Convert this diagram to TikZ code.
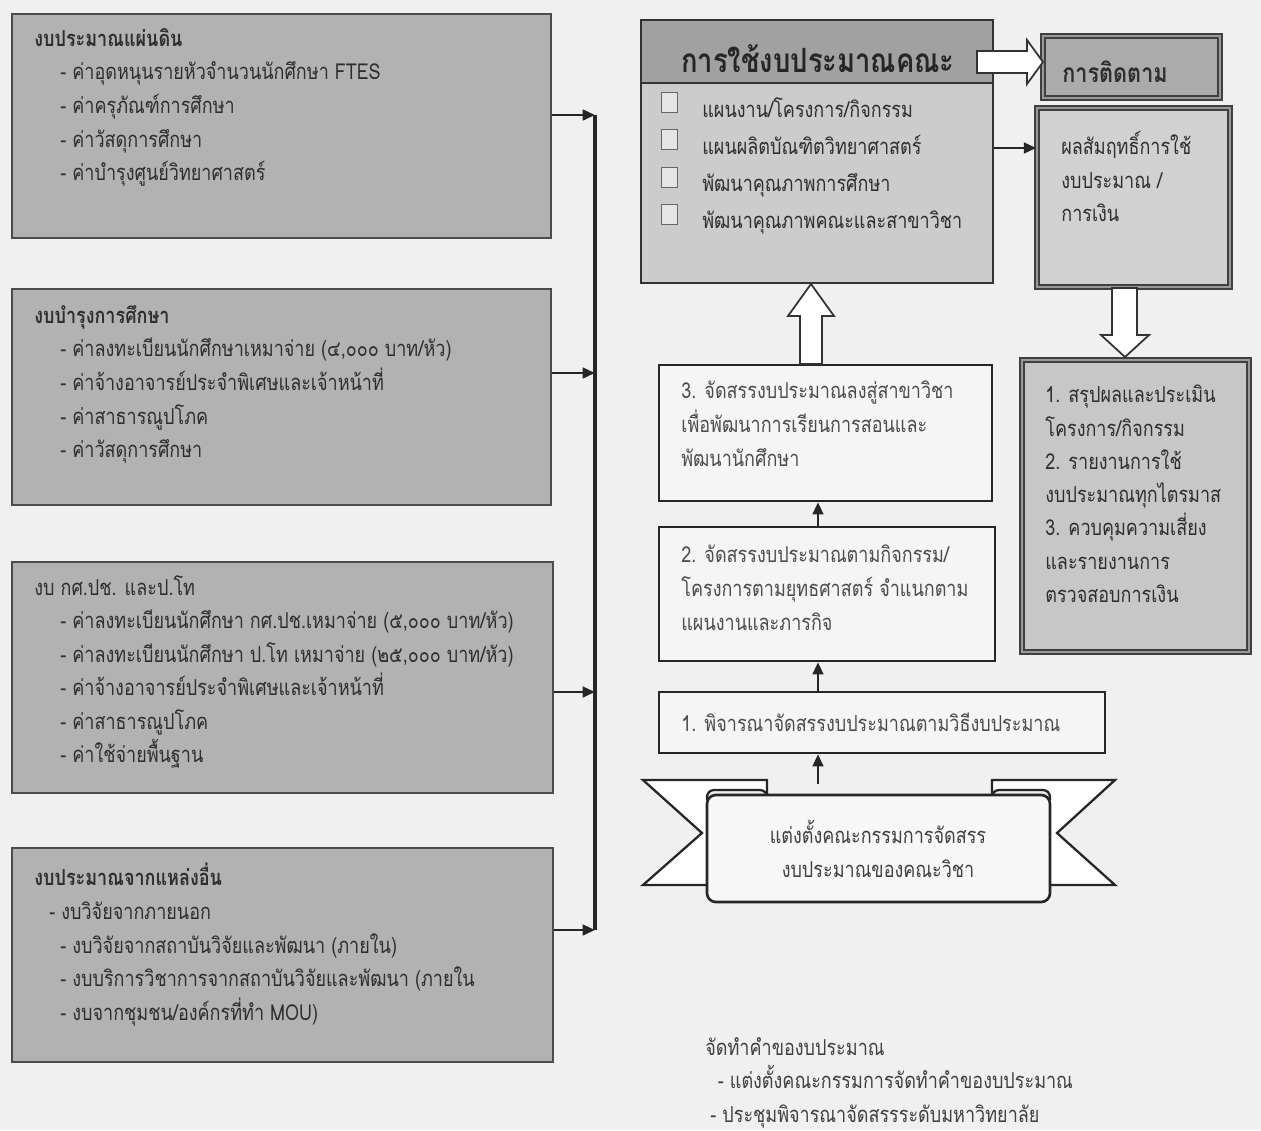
\documentclass[tikz,border=0pt]{standalone}
\usepackage{fontspec}
\newfontfamily\thai[Script=Thai, FakeStretch=0.82]{Loma}
\usetikzlibrary{fit,arrows.meta,calc}
\tikzset{
  lbox/.style={draw=black!70, line width=1pt, fill=black!30, inner sep=0pt},
  stepbox/.style={draw=black!85, line width=1.3pt, fill=black!4, inner sep=0pt},
  dbox/.style={draw=black!75, line width=0.9pt, double=black!40, double distance=1.4pt, inner sep=0pt},
  txt/.style={anchor=north west, inner sep=0pt, align=left, text=black!82,
    font=\thai\fontsize{12.5}{19.1}\selectfont},
  arr/.style={line width=1.6pt, black!85, -{Triangle[length=7pt,width=6pt]}},
  hollow/.style={draw=black!80, line width=1pt, fill=white},
  chk/.style={draw=black!60, line width=0.8pt, fill=black!10, inner sep=0pt, minimum width=16*0.02cm, minimum height=20*0.02cm, anchor=north west},
}
\begin{document}
\begin{tikzpicture}[x=0.02cm,y=-0.02cm]
\useasboundingbox[fill=black!6] (0,0) rectangle (1261,1130);

% ---------- left boxes ----------
\node[lbox, fit={(12,14) (551,238)}] (b1) {};
\node[lbox, fit={(12,289) (551,505)}] (b2) {};
\node[lbox, fit={(12,562) (553,793)}] (b3) {};
\node[lbox, fit={(12,848) (553,1062)}] (b4) {};

\node[txt] (t1) at (34,28) {{\bfseries งบประมาณแผ่นดิน}\\
\hspace*{0.52cm}- ค่าอุดหนุนรายหัวจำนวนนักศึกษา FTES\\
\hspace*{0.52cm}- ค่าครุภัณฑ์การศึกษา\\
\hspace*{0.52cm}- ค่าวัสดุการศึกษา\\
\hspace*{0.52cm}- ค่าบำรุงศูนย์วิทยาศาสตร์};

\node[txt] (t2) at (34,305) {{\bfseries งบบำรุงการศึกษา}\\
\hspace*{0.52cm}- ค่าลงทะเบียนนักศึกษาเหมาจ่าย (๔,๐๐๐ บาท/หัว)\\
\hspace*{0.52cm}- ค่าจ้างอาจารย์ประจำพิเศษและเจ้าหน้าที่\\
\hspace*{0.52cm}- ค่าสาธารณูปโภค\\
\hspace*{0.52cm}- ค่าวัสดุการศึกษา};

\node[txt] (t3) at (34,575) {งบ กศ.ปช. และป.โท\\
\hspace*{0.52cm}- ค่าลงทะเบียนนักศึกษา กศ.ปช.เหมาจ่าย (๕,๐๐๐ บาท/หัว)\\
\hspace*{0.52cm}- ค่าลงทะเบียนนักศึกษา ป.โท เหมาจ่าย (๒๕,๐๐๐ บาท/หัว)\\
\hspace*{0.52cm}- ค่าจ้างอาจารย์ประจำพิเศษและเจ้าหน้าที่\\
\hspace*{0.52cm}- ค่าสาธารณูปโภค\\
\hspace*{0.52cm}- ค่าใช้จ่ายพื้นฐาน};

\node[txt] (t4) at (34,863) {{\bfseries งบประมาณจากแหล่งอื่น}\\
\hspace*{0.3cm}- งบวิจัยจากภายนอก\\
\hspace*{0.52cm}- งบวิจัยจากสถาบันวิจัยและพัฒนา (ภายใน)\\
\hspace*{0.52cm}- งบบริการวิชาการจากสถาบันวิจัยและพัฒนา (ภายใน\\
\hspace*{0.52cm}- งบจากชุมชน/องค์กรที่ทำ MOU)};

% bus
\coordinate (j1) at (595,115);
\coordinate (j2) at (595,373);
\coordinate (j3) at (595,692);
\coordinate (j4) at (595,930);
\draw[line width=2pt, black!85] (j1) -- (j4);
\draw[arr] (b1.east |- j1) -- (j1);
\draw[arr] (b2.east |- j2) -- (j2);
\draw[arr] (b3.east |- j3) -- (j3);
\draw[arr] (b4.east |- j4) -- (j4);

% ---------- top centre box ----------
\node[draw=black!80, line width=1.2pt, fill=black!20, inner sep=0pt, fit={(641,20) (993,283)}] (use) {};
\fill[black!37] (641,20) rectangle (993,83);
\draw[black!80, line width=1.2pt] (641,83) -- (993,83);
\draw[black!80, line width=1.2pt] (641,20) rectangle (993,283);
\node[inner sep=0pt, text=black!85, font=\thai\bfseries\fontsize{19}{23}\selectfont] (usetitle) at (818,59) {การใช้งบประมาณคณะ};

\node[chk] (c1) at (661,92) {};
\node[chk] (c2) at (661,129) {};
\node[chk] (c3) at (661,167) {};
\node[chk] (c4) at (661,204) {};
\node[txt, font=\thai\fontsize{12.5}{21.2}\selectfont] (useitems) at (702,97) {แผนงาน/โครงการ/กิจกรรม\\
แผนผลิตบัณฑิตวิทยาศาสตร์\\
พัฒนาคุณภาพการศึกษา\\
พัฒนาคุณภาพคณะและสาขาวิชา};

% ---------- monitoring ----------
\node[dbox, fill=black!33, fit={(1043,36) (1220,98)}] (mon) {};
\node[txt, font=\thai\bfseries\fontsize{15}{18}\selectfont, anchor=west] (montxt) at (1062,72) {การติดตาม};

\node[dbox, fill=black!18, fit={(1037,108) (1230,287)}] (res) {};
\node[txt] (restxt) at (1061,131) {ผลสัมฤทธิ์การใช้\\งบประมาณ /\\การเงิน};

\node[dbox, fill=black!22, fit={(1022,360) (1249,652)}] (sum) {};
\node[txt, font=\thai\fontsize{12.5}{18.9}\selectfont] (sumtxt) at (1045,385) {1. สรุปผลและประเมิน\\
โครงการ/กิจกรรม\\
2. รายงานการใช้\\
งบประมาณทุกไตรมาส\\
3. ควบคุมความเสี่ยง\\
และรายงานการ\\
ตรวจสอบการเงิน};

% hollow right arrow use -> monitoring
\draw[hollow] (977,51) -- (1027,51) -- (1027,40) -- (1043,62) -- (1027,84) -- (1027,73) -- (977,73) -- cycle;
% arrow use -> result
\draw[arr] (use.east |- 0,148) -- (res.west |- 0,148);
% hollow down arrow result -> summary
\draw[hollow] (1112,288) -- (1137,288) -- (1137,335) -- (1149,335) -- (1125,357) -- (1101,335) -- (1112,335) -- cycle;

% ---------- centre steps ----------
\node[stepbox, fit={(659,365) (992,501)}] (s3) {};
\node[txt, text=black!70] (s3t) at (681,381) {3. จัดสรรงบประมาณลงสู่สาขาวิชา\\
เพื่อพัฒนาการเรียนการสอนและ\\
พัฒนานักศึกษา};

\node[stepbox, fit={(659,527) (995,661)}] (s2) {};
\node[txt, text=black!70] (s2t) at (681,545) {2. จัดสรรงบประมาณตามกิจกรรม/\\
โครงการตามยุทธศาสตร์ จำแนกตาม\\
แผนงานและภารกิจ};

\node[stepbox, fit={(659,692) (1105,753)}] (s1) {};
\node[txt, text=black!70, anchor=west] (s1t) at (681,722) {1. พิจารณาจัดสรรงบประมาณตามวิธีงบประมาณ};

% hollow up arrow s3 -> use
\draw[hollow] (800,364) -- (800,316) -- (788,316) -- (811,284) -- (834,316) -- (822,316) -- (822,364) -- cycle;

% ---------- banner ----------
\draw[line width=1.3pt, black!85, fill=white] (643,780) -- (767,780) -- (767,885) -- (643,885) -- (702,833) -- cycle;
\draw[line width=1.3pt, black!85, fill=white] (1115,780) -- (992,780) -- (992,885) -- (1115,885) -- (1057,833) -- cycle;
\draw[line width=1.3pt, black!85, fill=black!8, rounded corners=4pt] (707,800) -- (707,790) -- (767,790) -- (767,800);
\draw[line width=1.3pt, black!85, fill=black!8, rounded corners=4pt] (992,800) -- (992,790) -- (1050,790) -- (1050,800);
\node[draw=black!85, line width=1.5pt, fill=black!3, rounded corners=5pt, inner sep=0pt, fit={(707,795) (1050,902)}] (ban) {};
\node[inner sep=0pt, align=center, text=black!75, font=\thai\fontsize{12.5}{19.1}\selectfont] (bant) at (878,849) {แต่งตั้งคณะกรรมการจัดสรร\\งบประมาณของคณะวิชา};

\coordinate (bantop) at (818,784);
\draw[arr] (bantop) -- (s1.south -| bantop);
\draw[arr] (s1.north -| bantop) -- (s2.south -| bantop);
\draw[arr] (s2.north -| bantop) -- (s3.south -| bantop);

% ---------- bottom text ----------
\node[txt, text=black!75] (req) at (705,1037) {จัดทำคำของบประมาณ\\
\hspace*{0.25cm}- แต่งตั้งคณะกรรมการจัดทำคำของบประมาณ\\
\hspace*{0.1cm}- ประชุมพิจารณาจัดสรรระดับมหาวิทยาลัย};
\end{tikzpicture}
\end{document}
